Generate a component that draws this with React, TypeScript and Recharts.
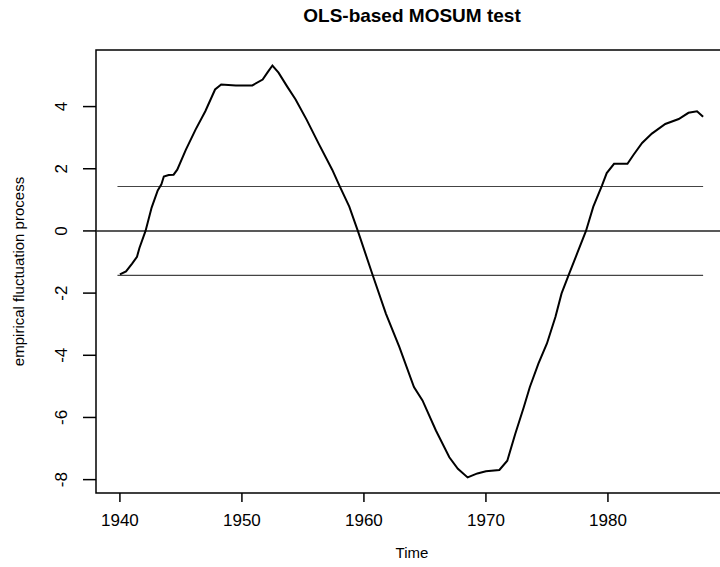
import React from 'react';
import { LineChart, Line, XAxis, YAxis, ReferenceLine, ReferenceArea } from 'recharts';

// years and process values
const years = [
  1940.0, 1940.5, 1941.0, 1941.4, 1941.6, 1942.1, 1942.6, 1943.1, 1943.4, 1943.6,
  1944.0, 1944.4, 1944.7, 1945.4, 1946.2, 1947.0, 1947.8, 1948.3, 1949.5, 1950.85,
  1951.7, 1952.1, 1952.5, 1953.0, 1953.7, 1954.4, 1955.3, 1956.3, 1957.4, 1958.0,
  1958.8, 1959.5, 1960.7, 1961.8, 1962.9, 1964.1, 1964.8, 1965.9, 1967.0, 1967.7,
  1968.5, 1969.3, 1970.0, 1971.1, 1971.75, 1972.4, 1973.1, 1973.6, 1974.3, 1975.0,
  1975.7, 1976.2, 1976.8, 1977.5, 1978.2, 1978.8, 1979.5, 1979.9, 1980.5, 1981.6,
  1982.1, 1982.8, 1983.6, 1984.7, 1985.8, 1986.6, 1987.3, 1987.8,
];
const fluctuation = [
  -1.4, -1.3, -1.05, -0.83, -0.55, 0.0, 0.75, 1.3, 1.5, 1.75,
  1.8, 1.81, 1.97, 2.61, 3.26, 3.85, 4.55, 4.71, 4.68, 4.68,
  4.87, 5.1, 5.32, 5.09, 4.65, 4.23, 3.58, 2.8, 1.97, 1.45,
  0.78, 0.0, -1.4, -2.66, -3.73, -5.02, -5.45, -6.42, -7.28, -7.65,
  -7.93, -7.8, -7.73, -7.69, -7.39, -6.53, -5.67, -5.02, -4.27, -3.62,
  -2.76, -2.01, -1.4, -0.7, 0.0, 0.78, 1.45, 1.86, 2.16, 2.16,
  2.45, 2.83, 3.13, 3.44, 3.6, 3.8, 3.85, 3.67,
];

const boundaryYears = [1939.8, 1987.8];
const boundary = 1.43;

const xTicks = [1940, 1950, 1960, 1970, 1980];
const yTicks = [-8, -6, -4, -2, 0, 2, 4];
const xDomain = [1938.04, 1989.84];
const yDomain = [-8.43, 5.82];

const processData = years.map((t, i) => ({ t, v: fluctuation[i] }));
const upperData = boundaryYears.map((t) => ({ t, v: boundary }));
const lowerData = boundaryYears.map((t) => ({ t, v: -boundary }));

const font = '"Liberation Sans", Arial, Helvetica, sans-serif';

const YTick = (props: any) => {
  const { x, y, payload } = props;
  return (
    <g transform={`translate(${x - 14},${y})`}>
      <text transform="rotate(-90)" textAnchor="middle" fontSize={17} fontFamily={font} fill="#000">
        {payload.value}
      </text>
    </g>
  );
};

const YLabel = (props: any) => {
  const vb = props.viewBox || { x: 0, y: 50, width: 96, height: 443 };
  const cx = 24;
  const cy = vb.y + vb.height / 2;
  return (
    <text
      transform={`translate(${cx},${cy}) rotate(-90)`}
      textAnchor="middle"
      fontSize={15}
      fontFamily={font}
      fill="#000"
    >
      empirical fluctuation process
    </text>
  );
};

export default function App() {
  return (
    <div
      style={{
        position: 'fixed',
        left: 0,
        top: 0,
        width: 720,
        height: 567,
        overflow: 'hidden',
        background: '#fff',
      }}
    >
      <div
        style={{
          position: 'absolute',
          left: 0,
          top: 6,
          width: 824,
          textAlign: 'center',
          fontFamily: font,
          fontWeight: 700,
          fontSize: 19,
          lineHeight: '20px',
          color: '#000',
        }}
      >
        OLS-based MOSUM test
      </div>
      <LineChart width={740} height={567} margin={{ top: 50, right: 12, bottom: 0, left: 0 }}>
        <XAxis
          dataKey="t"
          type="number"
          domain={xDomain}
          ticks={xTicks}
          allowDataOverflow
          axisLine={false}
          tickSize={9}
          tickMargin={12}
          height={74}
          tickLine={{ stroke: '#000', strokeWidth: 1.5 }}
          tick={{ fill: '#000', fontSize: 17, fontFamily: font }}
          label={{ value: 'Time', position: 'insideBottom', offset: 9, fill: '#000', fontSize: 15, fontFamily: font }}
        />
        <YAxis
          type="number"
          domain={yDomain}
          ticks={yTicks}
          allowDataOverflow
          axisLine={false}
          width={96}
          tickSize={13}
          tickMargin={2}
          tickLine={{ stroke: '#000', strokeWidth: 1.5 }}
          tick={<YTick />}
          label={<YLabel />}
        />
        <ReferenceArea
          x1={xDomain[0]}
          x2={xDomain[1]}
          y1={yDomain[0]}
          y2={yDomain[1]}
          fill="none"
          fillOpacity={0}
          stroke="#000"
          strokeWidth={1.5}
        />
        <ReferenceLine y={0} stroke="#222" strokeWidth={1.5} />
        <Line data={upperData} dataKey="v" stroke="#444" strokeWidth={1.2} dot={false} isAnimationActive={false} />
        <Line data={lowerData} dataKey="v" stroke="#444" strokeWidth={1.2} dot={false} isAnimationActive={false} />
        <Line data={processData} dataKey="v" stroke="#000" strokeWidth={2} dot={false} isAnimationActive={false} />
      </LineChart>
    </div>
  );
}
